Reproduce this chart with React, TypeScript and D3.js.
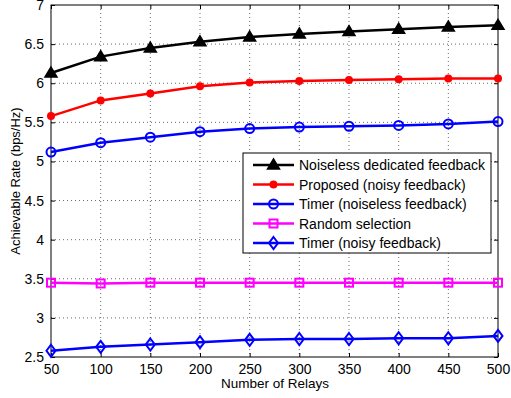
import * as d3 from 'd3';
import { useEffect, useRef } from 'react';

const relays = [50, 100, 150, 200, 250, 300, 350, 400, 450, 500];
const noiselessDedicated = [6.13, 6.34, 6.45, 6.53, 6.59, 6.63, 6.66, 6.69, 6.72, 6.74];
const proposedNoisy = [5.58, 5.78, 5.87, 5.96, 6.01, 6.03, 6.04, 6.05, 6.06, 6.06];
const timerNoiseless = [5.12, 5.24, 5.31, 5.38, 5.42, 5.44, 5.45, 5.46, 5.48, 5.51];
const randomSelection = [3.45, 3.44, 3.45, 3.45, 3.45, 3.45, 3.45, 3.45, 3.45, 3.45];
const timerNoisy = [2.58, 2.63, 2.66, 2.69, 2.72, 2.73, 2.73, 2.74, 2.74, 2.77];
const yTicks = [2.5, 3, 3.5, 4, 4.5, 5, 5.5, 6, 6.5, 7];

type Marker = 'triangle' | 'dot' | 'circle' | 'square' | 'diamond';
type Series = { name: string; values: number[]; color: string; marker: Marker };

const seriesList: Series[] = [
  { name: 'Noiseless dedicated feedback', values: noiselessDedicated, color: '#000000', marker: 'triangle' },
  { name: 'Proposed (noisy feedback)', values: proposedNoisy, color: '#ff0000', marker: 'dot' },
  { name: 'Timer (noiseless feedback)', values: timerNoiseless, color: '#0000ff', marker: 'circle' },
  { name: 'Random selection', values: randomSelection, color: '#ff00ff', marker: 'square' },
  { name: 'Timer (noisy feedback)', values: timerNoisy, color: '#0000ff', marker: 'diamond' },
];

const drawMarker = (g: d3.Selection<SVGGElement, unknown, null, undefined>, kind: Marker, cx: number, cy: number, color: string) => {
  if (kind === 'triangle') {
    g.append('path')
      .attr('d', `M${cx},${cy - 6}L${cx + 6},${cy + 4}L${cx - 6},${cy + 4}Z`)
      .attr('fill', color)
      .attr('stroke', color)
      .attr('stroke-width', 1.5);
  } else if (kind === 'dot') {
    g.append('circle').attr('cx', cx).attr('cy', cy).attr('r', 4).attr('fill', color);
  } else if (kind === 'circle') {
    g.append('circle').attr('cx', cx).attr('cy', cy).attr('r', 4.5)
      .attr('fill', 'none').attr('stroke', color).attr('stroke-width', 2);
  } else if (kind === 'square') {
    g.append('rect').attr('x', cx - 4).attr('y', cy - 4).attr('width', 8).attr('height', 8)
      .attr('fill', 'none').attr('stroke', color).attr('stroke-width', 2);
  } else {
    g.append('path')
      .attr('d', `M${cx},${cy - 6}L${cx + 4.5},${cy}L${cx},${cy + 6}L${cx - 4.5},${cy}Z`)
      .attr('fill', 'none').attr('stroke', color).attr('stroke-width', 2);
  }
};

export default function App() {
  const ref = useRef<HTMLDivElement>(null);

  useEffect(() => {
    const W = 511;
    const H = 398;
    const left = 51;
    const right = 498;
    const top = 5;
    const bottom = 357;
    const font = 'Liberation Sans, Arial, sans-serif';

    const x = d3.scaleLinear().domain([50, 500]).range([left, right]);
    const y = d3.scaleLinear().domain([2.5, 7]).range([bottom, top]);

    const root = ref.current;
    const svg = d3.select(root).append('svg')
      .attr('width', W).attr('height', H)
      .style('position', 'fixed').style('left', '0px').style('top', '0px')
      .style('font-family', font);

    svg.append('rect').attr('width', W).attr('height', H).attr('fill', '#fff');

    // dotted grid
    const grid = svg.append('g').attr('stroke', '#444').attr('stroke-width', 0.8).attr('stroke-dasharray', '1,3');
    relays.slice(1, -1).forEach((r) => {
      grid.append('line').attr('x1', x(r)).attr('x2', x(r)).attr('y1', top).attr('y2', bottom);
    });
    yTicks.slice(1, -1).forEach((v) => {
      grid.append('line').attr('x1', left).attr('x2', right).attr('y1', y(v)).attr('y2', y(v));
    });

    // axes (ticks inward)
    svg.append('g').attr('transform', `translate(0,${bottom})`)
      .call(d3.axisBottom(x).tickValues(relays).tickSize(-4).tickPadding(7).tickFormat(d3.format('d')))
      .call((g) => {
        g.select('.domain').remove();
        g.selectAll('.tick text').style('font-size', '14px').style('font-family', font).attr('fill', '#000');
      });
    svg.append('g').attr('transform', `translate(0,${top})`)
      .call(d3.axisTop(x).tickValues(relays).tickSize(-4).tickFormat(() => ''))
      .call((g) => g.select('.domain').remove());
    svg.append('g').attr('transform', `translate(${left},0)`)
      .call(d3.axisLeft(y).tickValues(yTicks).tickSize(-4).tickPadding(7).tickFormat((d) => `${d}`))
      .call((g) => {
        g.select('.domain').remove();
        g.selectAll('.tick text').style('font-size', '14px').style('font-family', font).attr('fill', '#000');
      });
    svg.append('g').attr('transform', `translate(${right},0)`)
      .call(d3.axisRight(y).tickValues(yTicks).tickSize(-4).tickFormat(() => ''))
      .call((g) => g.select('.domain').remove());

    svg.append('rect').attr('x', left).attr('y', top).attr('width', right - left).attr('height', bottom - top)
      .attr('fill', 'none').attr('stroke', '#000').attr('stroke-width', 1);

    // series
    const line = d3.line<number>().x((_d, i) => x(relays[i])).y((d) => y(d));
    seriesList.forEach((s) => {
      const g = svg.append('g');
      g.append('path').datum(s.values).attr('d', line)
        .attr('fill', 'none').attr('stroke', s.color).attr('stroke-width', 2.5);
      s.values.forEach((v, i) => drawMarker(g, s.marker, x(relays[i]), y(v), s.color));
    });

    // legend
    const lg = svg.append('g');
    lg.append('rect').attr('x', 243).attr('y', 153).attr('width', 248).attr('height', 100)
      .attr('fill', '#fff').attr('stroke', '#000').attr('stroke-width', 1);
    seriesList.forEach((s, i) => {
      const cy = 165 + i * 19.5;
      lg.append('line').attr('x1', 253).attr('x2', 294).attr('y1', cy).attr('y2', cy)
        .attr('stroke', s.color).attr('stroke-width', 2.5);
      drawMarker(lg, s.marker, 273.5, cy, s.color);
      lg.append('text').attr('x', 299).attr('y', cy + 5).attr('font-size', 14).text(s.name);
    });

    // axis labels
    svg.append('text').attr('x', 275).attr('y', 388).attr('text-anchor', 'middle')
      .attr('font-size', 13.5).text('Number of Relays');
    svg.append('text').attr('transform', `translate(20,181) rotate(-90)`)
      .attr('text-anchor', 'middle').attr('font-size', 13).text('Achievable Rate (bps/Hz)');

    return () => {
      d3.select(root).selectAll('svg').remove();
    };
  }, []);

  return <div ref={ref} />;
}
